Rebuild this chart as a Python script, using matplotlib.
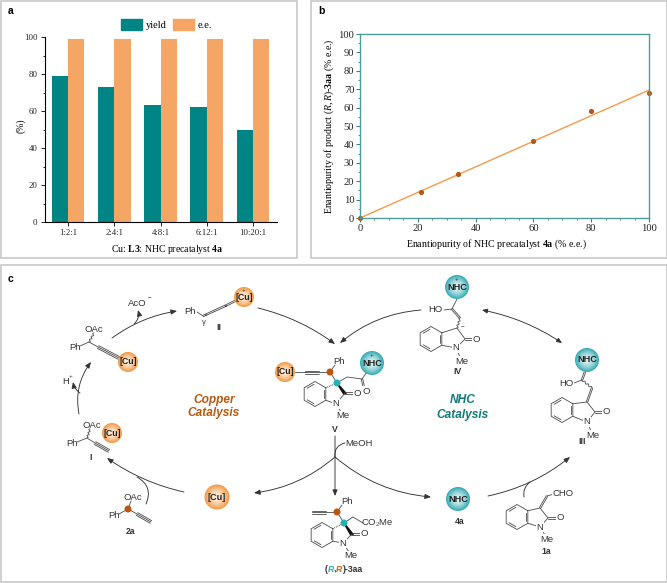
import numpy as np
import matplotlib
matplotlib.use("Agg")
import matplotlib.pyplot as plt
from matplotlib.colors import to_rgb
from matplotlib.patches import Circle, Rectangle, FancyArrowPatch, Patch
from matplotlib.ticker import MultipleLocator

plt.rcParams['font.family'] = ['Liberation Serif', 'DejaVu Sans']
plt.rcParams['mathtext.fontset'] = 'custom'
plt.rcParams['mathtext.rm'] = 'Liberation Serif'
plt.rcParams['mathtext.bf'] = 'Liberation Serif:bold'
plt.rcParams['mathtext.it'] = 'Liberation Serif:italic'

# ---- data
ratios = ['1:2:1', '2:4:1', '4:8:1', '6:12:1', '10:20:1']
yield_pct = [79, 73, 63, 62, 50]
ee_pct = [99, 99, 99, 99, 99]
nhc_ee = [0, 21, 34, 60, 80, 100]
product_ee = [0, 14, 24, 42, 58, 68]
fit_x = [0, 100]
fit_y = [0, 69.5]

W, H = 667, 583
TEAL, ORANGE = '#008484', '#f5a665'
fig = plt.figure(figsize=(W / 100, H / 100), dpi=100, facecolor='white')


def box(l, t, r, b):
    return [l / W, 1 - b / H, (r - l) / W, (b - t) / H]


# ---- background / scheme layer in figure pixels
bg = fig.add_axes([0, 0, 1, 1], zorder=0)
bg.set_xlim(0, W)
bg.set_ylim(H, 0)
bg.axis('off')
for l, t, r, b in [(0.5, 0.5, 297, 258), (311, 1, 666.5, 258), (0.5, 265, 666.5, 582)]:
    bg.add_patch(Rectangle((l, t), r - l, b - t, fc='white', ec='#c4c4c4', lw=1.1))
for s, x, y in [('a', 11, 11), ('b', 321, 11), ('c', 11, 279)]:
    bg.text(x, y, s, family='Liberation Sans', weight='bold', fontsize=7.5, ha='center', va='center')

# ---- panel a
ax = fig.add_axes(box(44.5, 37, 277, 222), zorder=2)
ax.patch.set_alpha(0)
pos = np.arange(len(ratios))
bw = 0.352
ax.bar(pos - bw / 2, yield_pct, bw, color=TEAL, label='yield')
ax.bar(pos + bw / 2, ee_pct, bw, color=ORANGE, label='e.e.')
ax.set_xlim(-0.51, 4.52)
ax.set_ylim(0, 100)
ax.set_xticks(pos, ratios)
ax.yaxis.set_major_locator(MultipleLocator(20))
ax.yaxis.set_minor_locator(MultipleLocator(10))
ax.spines[['top', 'right']].set_visible(False)
ax.tick_params(axis='both', which='major', labelsize=6.3, length=3, width=0.7, pad=2, colors='#222222')
ax.tick_params(axis='y', which='minor', length=1.8, width=0.6)
ax.set_ylabel('(%)', fontsize=7)
ax.yaxis.set_label_coords((26 - 44.5) / 232.5, (222 - 126) / 185)
ax.set_xlabel(r'Cu: $\mathbf{L3}$: NHC precatalyst $\mathbf{4a}$', fontsize=7.0)
ax.xaxis.set_label_coords((167 - 44.5) / 232.5, (222 - 242.5) / 185)
ax.legend(handles=[Patch(color=TEAL, label='yield'), Patch(color=ORANGE, label='e.e.')],
          ncol=2, frameon=False, fontsize=7.5, loc='center', bbox_to_anchor=(0.525, 1.07),
          handlelength=2.0, handleheight=1.25, handletextpad=0.4, columnspacing=0.6, borderpad=0)

# ---- panel b
ab = fig.add_axes(box(360, 34, 649, 218), zorder=2)
ab.patch.set_alpha(0)
ab.plot(fit_x, fit_y, color='#f39a4c', lw=1.0, clip_on=False)
ab.plot(nhc_ee, product_ee, 'o', color='#b9560f', ms=2.7, clip_on=False)
ab.set_xlim(0, 100)
ab.set_ylim(0, 100)
ab.xaxis.set_major_locator(MultipleLocator(20))
ab.xaxis.set_minor_locator(MultipleLocator(5))
ab.yaxis.set_major_locator(MultipleLocator(10))
ab.yaxis.set_minor_locator(MultipleLocator(5))
for s in ab.spines.values():
    s.set_color('#4f9a9c')
    s.set_linewidth(1.0)
ab.tick_params(axis='both', which='major', labelsize=7.6, length=2.6, width=0.7, pad=1.5, color='#2c7f80', labelcolor='#222222')
ab.tick_params(axis='both', which='minor', length=1.4, width=0.6, color='#2c7f80')
ab.set_xlabel(r'Enantiopurity of NHC precatalyst $\mathbf{4a}$ (% e.e.)', fontsize=7.1)
ab.xaxis.set_label_coords((496 - 360) / 289, (218 - 237) / 184)
ab.set_ylabel(r'Enantiopurity of product ($\mathit{R,R}$)-$\mathbf{3aa}$ (% e.e.)', fontsize=7.1)
ab.yaxis.set_label_coords((336 - 360) / 289, 0.5)

# ---- panel c helpers
SANS = 'Liberation Sans'
LC = '#4a4a4a'


def bond(*pts, lw=0.6, c=LC, z=3, **kw):
    xs, ys = zip(*pts)
    bg.plot(xs, ys, color=c, lw=lw, zorder=z, solid_capstyle='round', **kw)


def multi(p, q, n=2, gap=1.5):
    p, q = np.array(p, float), np.array(q, float)
    d = (q - p) / np.hypot(*(q - p))
    nrm = np.array([-d[1], d[0]])
    for k in np.linspace(-(n - 1) / 2, (n - 1) / 2, n):
        bond(tuple(p + nrm * k * gap), tuple(q + nrm * k * gap))


def wavy(p, q):
    p, q = np.array(p, float), np.array(q, float)
    d = q - p
    nrm = np.array([-d[1], d[0]]) / np.hypot(*d)
    t = np.linspace(0, 1, 25)
    pts = p + np.outer(t, d) + np.outer(np.sin(t * 3 * 2 * np.pi) * 0.9, nrm)
    bond(*map(tuple, pts))


def label(x, y, s, size=6.8, weight='normal', color='#333333', style='normal', z=5, bgc=None):
    kw = dict(bbox=dict(fc=bgc, ec='none', pad=0.4)) if bgc else {}
    bg.text(x, y, s, family=SANS, fontsize=size, weight=weight, color=color, style=style,
            ha='center', va='center', zorder=z, **kw)


def ball(x, y, r, text, edge, centre, size=6.4, sup=None):
    e, c = np.array(to_rgb(edge)), np.array(to_rgb(centre))
    for f in np.linspace(1, 0.1, 14):
        bg.add_patch(Circle((x, y), r * f, fc=tuple(c + (e - c) * f ** 1.6), ec='none', zorder=4))
    label(x, y, text, size=size, weight='bold', color='#222222', z=6)
    if sup:
        label(x, y - r * 0.62, sup, size=4.6, z=6)


def cu(x, y, r=10, sup=None, size=6.4):
    ball(x, y, r, '[Cu]', '#f29a48', '#fff0e0', size=size, sup=sup)


def nhc(x, y, r=12, sup=None):
    ball(x, y, r, 'NHC', '#38aab4', '#e2f6f6', size=6.6, sup=sup)


def dot(x, y, color, r=3.5):
    bg.add_patch(Circle((x, y), r, fc=color, ec='none', zorder=3.5))


def ring(cx, cy, r=12.5):
    ang = np.radians(np.arange(30, 390, 60))
    v = np.c_[cx + r * np.cos(ang), cy - r * np.sin(ang)]
    bond(*map(tuple, np.r_[v, v[:1]]))
    iv = np.c_[cx + (r - 2.2) * np.cos(ang), cy - (r - 2.2) * np.sin(ang)]
    for i in (1, 3, 5):
        j = (i + 1) % 6
        a, b = iv[i] + (iv[j] - iv[i]) * .12, iv[i] + (iv[j] - iv[i]) * .88
        bond(tuple(a), tuple(b))
    return v


def indolinone(cx, cy, c3, c2, n, o, me, chiral=False):
    v = ring(cx, cy)
    if chiral:
        bond(tuple(v[0]), c3, lw=0.9, linestyle=(0, (0.6, 0.8)))
        bg.fill([c3[0] - 0.4, c3[0] + 0.4, c2[0] + 1.3, c2[0] - 1.3],
                [c3[1] - 0.4, c3[1] + 0.4, c2[1] + 0.6, c2[1] + 1.0], color='#111111', zorder=3)
    else:
        bond(tuple(v[0]), c3, c2)
    multi(c2, o)
    bond(c2, n)
    bond(n, tuple(v[5]))
    bond(n, (me[0] - 2, me[1] - 4))
    label(n[0], n[1], 'N', bgc='white')
    label(o[0] + 2.5, o[1], 'O', bgc='white')
    label(me[0], me[1], 'Me', bgc='white')


def arc(p, q, rad, both=False, head=True, lw=0.65):
    style = '<|-|>,head_length=3.2,head_width=1.4' if both else ('-|>,head_length=3.6,head_width=1.5' if head else '-')
    bg.add_patch(FancyArrowPatch(p, q, arrowstyle=style, connectionstyle=f'arc3,rad={rad}',
                                 color='#333333', lw=lw, shrinkA=0, shrinkB=0, zorder=2.5))


# ---- arrows
arc((112, 338), (177, 311), -0.12)
arc((134, 324), (138, 310), 0.3)
arc((258, 308), (335, 344), -0.1)
arc((421, 310), (340, 343), 0.16)
arc((482, 310), (562, 343), -0.1, both=True)
arc((488, 496), (570, 457), 0.12)
arc((524, 497), (530, 482), -0.3, head=False)
arc((335, 436), (335, 496), 0)
arc((335, 457), (254, 493), -0.15)
arc((335, 457), (431, 497), 0.16)
arc((335, 457), (345, 443), -0.45, head=False)
arc((184, 492), (107, 458), -0.1)
arc((146, 504), (137, 477), 0.45, head=False)
arc((79, 414), (91, 362), -0.22)
arc((80, 393), (73, 382), -0.2)

# ---- Cu intermediates
label(137, 303, 'AcO')
label(149.5, 297, '\u2212', 4.6)
label(66, 381, 'H')
label(71, 376, '+', 4.6)

# propargyl copper
wavy((94, 333), (89, 342))
bond((80, 346), (89, 342), (98, 347))
multi((98, 347), (119, 358), 3, 1.5)
label(94, 329, 'OAc')
label(75, 348, 'Ph')
cu(128, 362)

# allenylidene II
bond((197, 312), (203, 316))
multi((203, 316), (214, 311))
multi((214, 311), (225, 306))
multi((225, 306), (235, 301))
for x, y in [(206, 315), (226, 306)]:
    dot(x, y, '#222222', 0.8)
label(190, 311, 'Ph')
label(204, 323, '\u03b3', 5.6)
label(219, 327, 'II', 6.2, 'bold')
cu(244, 297, sup='+')

# I
wavy((90, 429), (87, 438))
bond((77, 442), (87, 438), (95, 443))
multi((95, 443), (109, 451), 3, 1.5)
label(92, 425, 'OAc')
label(72, 444, 'Ph')
label(91, 458, 'I', 6.2, 'bold')
cu(112, 433)

# free Cu
cu(217, 497, r=12.5, size=6.6)

# 2a
dot(128, 509, '#b9560f')
bond((119, 514), (128, 509), (137, 514))
bond((128, 509), (131, 501))
multi((137, 514), (151, 522), 3, 1.5)
label(133, 497, 'OAc')
label(114, 516, 'Ph')
label(130, 532, '2a', 6.2, 'bold')

# catalysis titles
for x, y, s, col in [(214, 400, 'Copper', '#b9590e'), (214, 413, 'Catalysis', '#b9590e'),
                     (463, 400, 'NHC', '#0f7a78'), (463, 415, 'Catalysis', '#0f7a78')]:
    label(x, y, s, 8.6, 'bold', col, 'italic')

# V
cu(285, 372)
bond((295, 372), (306, 372))
multi((305, 372), (319, 372), 3, 1.5)
bond((319, 372), (330, 372))
dot(330, 372, '#b9560f')
dot(337, 383, '#22b2b4')
bond((330, 372), (337, 383))
bond((330, 372), (335, 365))
label(339, 361, 'Ph')
indolinone(315, 394, (337, 383), (345, 393), (336, 404), (355, 393), (343, 416), chiral=True)
bond((337, 383), (347, 377), (362, 379))
bond((362, 379), (367, 372))
multi((362, 379), (364, 388))
label(366, 391, 'O', bgc='white')
label(335, 429, 'V', 6.2, 'bold')
nhc(372, 363, sup='+')

# 3aa
multi((312, 512), (326, 512), 3, 1.5)
bond((326, 512), (337, 512))
dot(337, 512, '#b9560f')
dot(344, 523, '#22b2b4')
bond((337, 512), (344, 523))
bond((337, 512), (342, 505))
label(347, 501, 'Ph')
indolinone(322, 535, (344, 523), (352, 534), (343, 543), (362, 534), (351, 556), chiral=True)
bond((344, 523), (353, 517), (363, 523))
label(377, 523.5, 'CO$_2$Me')
px = [(326, 569, '(', '#333333', 'normal'), (331, 569, 'R', '#22b2b4', 'italic'), (335, 569, ',', '#333333', 'normal'),
      (339, 569, 'R', '#c8620f', 'italic')]
for x, y, s, c, st in px:
    label(x, y, s, 6.2, 'bold', c, st)
label(352, 569, ')-3aa', 6.2, 'bold')

# IV
nhc(457, 287, sup='+')
bond((457, 299), (452, 309))
multi((452, 309), (460, 318))
bond((444, 310), (452, 309))
wavy((460, 318), (457, 328))
indolinone(431, 339, (457, 328), (465, 339), (456, 348), (474, 339), (462, 361))
label(435, 310, 'HO', bgc='white')
label(463, 326, '\u2212', 4.6)
label(457, 372, 'IV', 6.2, 'bold')

# III
nhc(587, 360)
multi((585, 372), (582, 380))
bond((574, 383), (582, 380))
wavy((582, 380), (592, 388))
multi((592, 388), (587, 402))
indolinone(562, 410, (587, 402), (595, 412), (587, 422), (604, 412), (593, 435))
label(566, 383, 'HO', bgc='white')
label(582, 442, 'III', 6.2, 'bold')

# 4a
nhc(458, 499)
label(460, 521, '4a', 6.2, 'bold')

# 1a
indolinone(517, 517, (540, 508), (548, 518), (540, 527), (558, 518), (547, 539))
multi((540, 508), (547, 496))
bond((547, 496), (554, 494))
label(563, 493, 'CHO', bgc='white')
label(546, 551, '1a', 6.2, 'bold')

# MeOH label
label(359, 443, 'MeOH')

fig.savefig('out.png', dpi=100, facecolor='white')
